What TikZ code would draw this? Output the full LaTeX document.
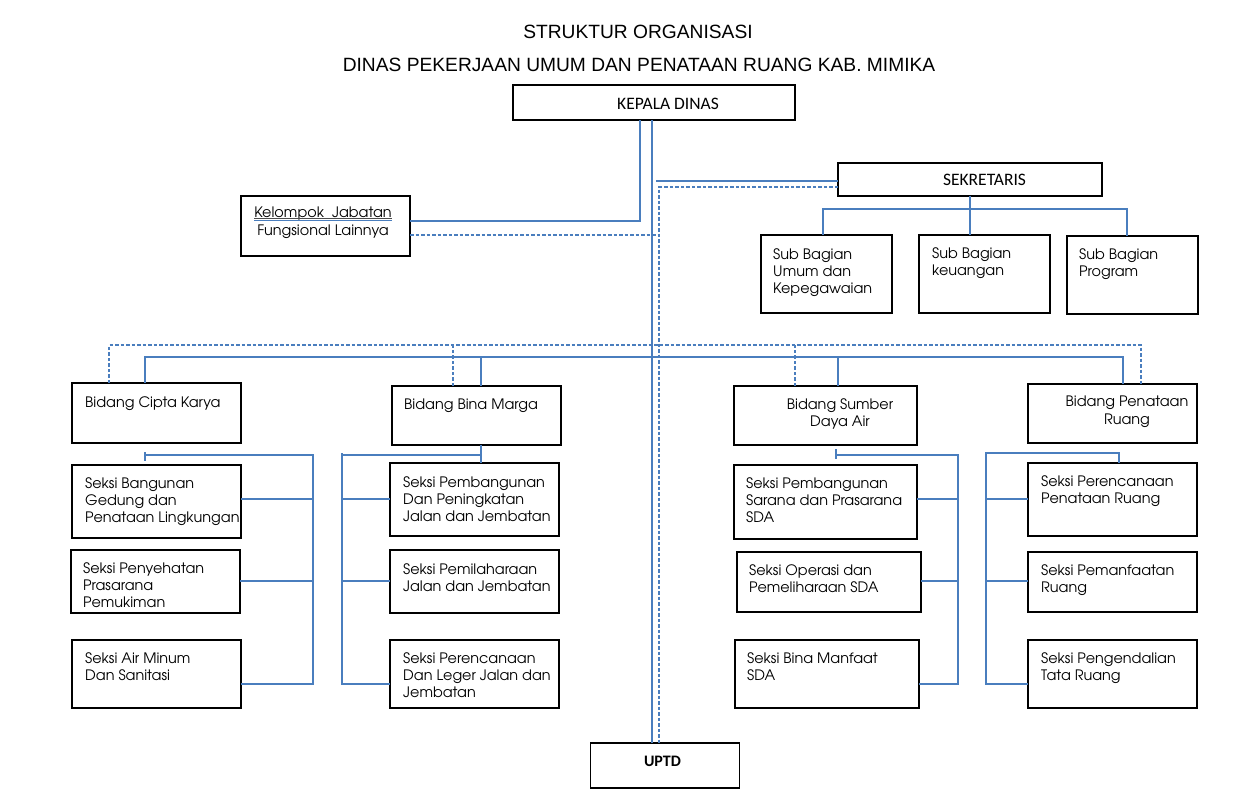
\documentclass[tikz,border=0pt]{standalone}
\usepackage{fontspec}
\setmainfont{Liberation Sans}
\newfontfamily\advfont{TeX Gyre Adventor}
\newfontfamily\calfont{Carlito}
\definecolor{ln}{RGB}{74,126,190}
\begin{document}
\begin{tikzpicture}[x=1pt,y=-1pt,
  box/.style={draw=black, line width=2.3pt, anchor=north west, inner sep=0pt, outer sep=0pt},
  thinbox/.style={draw=black, line width=1.1pt, anchor=north west, inner sep=0pt, outer sep=0pt},
  conn/.style={draw=ln, line width=1.2pt},
  dconn/.style={draw=ln, line width=1.1pt, dash pattern=on 3.5pt off 2pt},
  txt/.style={anchor=north west, align=left, inner sep=0pt, yshift=-2pt, font=\advfont\fontsize{14.4}{17.2}\selectfont},
  ctxt/.style={anchor=north, align=center, inner sep=0pt, yshift=-2pt, font=\advfont\fontsize{14.4}{17.2}\selectfont},
  ttl/.style={anchor=base, inner sep=0pt, font=\fontsize{19.2}{22}\selectfont},
  caltxt/.style={anchor=base, inner sep=0pt, font=\calfont\fontsize{17.5}{20}\selectfont}]
\useasboundingbox (0,0) rectangle (1246,792);
\fill[white] (0,0) rectangle (1246,792);

% titles
\node[ttl] (t1) at (638,38) {STRUKTUR ORGANISASI};
\node[ttl] (t2) at (639,71) {DINAS PEKERJAAN UMUM DAN PENATAAN RUANG KAB. MIMIKA};

% top boxes
\node[box, minimum width=282pt, minimum height=35pt] (kd) at (513,85) {};
\node[caltxt] (kdt) at (668,109.5) {KEPALA DINAS};
\node[thinbox, minimum width=264pt, minimum height=33pt] (sek) at (838,163) {};
\node[caltxt] (sekt) at (984.5,185.5) {SEKRETARIS};
\node[box, minimum width=169pt, minimum height=60pt] (kel) at (241,196) {};
\node[ctxt] (kelt) at (323,205) {Kelompok\ \ Jabatan\\Fungsional Lainnya};
\coordinate (ku1) at (254,220.5);
\coordinate (ku2) at (392,220.5);
\draw[black!70, line width=0.6pt] (254,218.3) -- (392,218.3);
\draw[conn] (ku1) -- (ku2);

% sub bagian
\node[box, minimum width=131pt, minimum height=78pt] (umum) at (761,235) {};
\node[txt] (umumt) at (773,246) {Sub Bagian\\Umum dan\\Kepegawaian};
\node[box, minimum width=131pt, minimum height=78pt] (keu) at (919,235) {};
\node[txt] (keut) at (932,245) {Sub Bagian\\keuangan};
\node[box, minimum width=131pt, minimum height=78pt] (prog) at (1067,236) {};
\node[txt] (progt) at (1079,246) {Sub Bagian\\Program};

% bidang
\node[box, minimum width=169pt, minimum height=60pt] (cipta) at (72,383) {};
\node[txt] (ciptat) at (85,394) {Bidang Cipta Karya};
\node[box, minimum width=169pt, minimum height=59pt] (bina) at (392,386) {};
\node[txt] (binat) at (404,397) {Bidang Bina Marga};
\node[box, minimum width=183pt, minimum height=59pt] (sda) at (734,386) {};
\node[ctxt] (sdat) at (840,396) {Bidang Sumber\\Daya Air};
\node[box, minimum width=169pt, minimum height=59pt] (pen) at (1028,384) {};
\node[ctxt] (pent) at (1127,394) {Bidang Penataan\\Ruang};

% seksi column 1
\node[box, minimum width=169pt, minimum height=73pt] (bang) at (72,465) {};
\node[txt] (bangt) at (85,475) {Seksi Bangunan\\Gedung dan\\Penataan Lingkungan};
\node[box, minimum width=169pt, minimum height=63pt] (peny) at (71,550) {};
\node[txt] (penyt) at (83,560) {Seksi Penyehatan\\Prasarana\\Pemukiman};
\node[box, minimum width=169pt, minimum height=68pt] (air) at (72,640) {};
\node[txt] (airt) at (85,650) {Seksi Air Minum\\Dan Sanitasi};

% seksi column 2
\node[box, minimum width=169pt, minimum height=73pt] (pemb) at (390,463) {};
\node[txt] (pembt) at (403,474) {Seksi Pembangunan\\Dan Peningkatan\\Jalan dan Jembatan};
\node[box, minimum width=169pt, minimum height=63pt] (pemi) at (390,550) {};
\node[txt] (pemit) at (403,561) {Seksi Pemilaharaan\\Jalan dan Jembatan};
\node[box, minimum width=169pt, minimum height=68pt] (lege) at (390,640) {};
\node[txt] (leget) at (403,650) {Seksi Perencanaan\\Dan Leger Jalan dan\\Jembatan};

% seksi column 3
\node[box, minimum width=183pt, minimum height=74pt] (sarana) at (734,465) {};
\node[txt] (saranat) at (746,475) {Seksi Pembangunan\\Sarana dan Prasarana\\SDA};
\node[box, minimum width=184pt, minimum height=60pt] (oper) at (737,552) {};
\node[txt] (opert) at (749,562) {Seksi Operasi dan\\Pemeliharaan SDA};
\node[box, minimum width=184pt, minimum height=68pt] (manf) at (735,640) {};
\node[txt] (manft) at (747,650) {Seksi Bina Manfaat\\SDA};

% seksi column 4
\node[box, minimum width=169pt, minimum height=73pt] (perR) at (1028,463) {};
\node[txt] (perRt) at (1041,473) {Seksi Perencanaan\\Penataan Ruang};
\node[box, minimum width=169pt, minimum height=60pt] (manR) at (1028,552) {};
\node[txt] (manRt) at (1041,562) {Seksi Pemanfaatan\\Ruang};
\node[box, minimum width=169pt, minimum height=68pt] (pengR) at (1028,640) {};
\node[txt] (pengRt) at (1041,650) {Seksi Pengendalian\\Tata Ruang};

% UPTD
\node[thinbox, minimum width=149pt, minimum height=45pt] (uptd) at (590.5,743) {};
\node[anchor=base, inner sep=0pt, font=\calfont\bfseries\fontsize{16}{19}\selectfont] (uptdt) at (662.5,766) {UPTD};

% ---- connectors ----
\draw[conn] (kd.south -| 640,0) |- (kel.east |- 0,221);
\draw[conn] (kd.south -| 652,0) -- (uptd.north -| 652,0);
\coordinate (s1) at (656,181);
\draw[conn] (s1) -- (sek.west |- s1);
\draw[dconn] (sek.west |- 0,187) -| (uptd.north -| 659,0);
\coordinate (d1) at (659,235);
\draw[dconn] (kel.east |- d1) -- (d1);

% sekretaris to sub bagian
\coordinate (sb) at (970,209);
\draw[conn] (sek.south) -- (sb);
\draw[conn] (umum.north -| 823,0) |- (sb) -| (prog.north -| 1127,0);
\draw[conn] (sb) -- (keu.north -| sb);

% bidang solid
\coordinate (h1) at (652,357);
\draw[conn] (cipta.north -| 145,0) |- (h1) -| (pen.north -| 1123,0);
\draw[conn] (bina.north -| 481,0) -- (h1 -| 481,0);
\draw[conn] (sda.north -| 838,0) -- (h1 -| 838,0);
% bidang dashed
\coordinate (d2) at (659,345);
\draw[dconn] (cipta.north -| 109,0) |- (d2) -| (pen.north -| 1141,0);
\draw[dconn] (bina.north -| 453,0) -- (d2 -| 453,0);
\draw[dconn] (sda.north -| 795,0) -- (d2 -| 795,0);

% column 1
\coordinate (c1a) at (145,455);
\coordinate (c1t) at (313,455);
\coordinate (c1b) at (313,684);
\coordinate (k1a) at (145,452);
\coordinate (k1b) at (145,461);
\draw[conn] (k1a) -- (k1b);
\draw[conn] (c1a) -- (c1t) -- (c1b) -- (air.east |- c1b);
\draw[conn] (bang.east |- 0,499) -- (c1t |- 0,499);
\draw[conn] (peny.east |- 0,581) -- (c1t |- 0,581);

% column 2
\coordinate (c2t) at (342,453);
\coordinate (c2h) at (342,455);
\coordinate (c2b) at (342,684);
\draw[conn] (bina.south -| 481,0) -- (pemb.north -| 481,0);
\draw[conn] (c2h) -- (c2h -| 481,0);
\draw[draw=ln, line width=2.4pt] (393,455) -- (430,455);
\draw[conn] (c2t) -- (c2b) -- (lege.west |- c2b);
\draw[conn] (pemb.west |- 0,499) -- (c2t |- 0,499);
\draw[conn] (pemi.west |- 0,581) -- (c2t |- 0,581);

% column 3
\coordinate (k3a) at (836,449);
\coordinate (k3b) at (836,459);
\coordinate (c3a) at (836,455);
\coordinate (c3t) at (958,455);
\coordinate (c3b) at (958,684);
\draw[conn] (k3a) -- (k3b);
\draw[conn] (c3a) -- (c3t) -- (c3b) -- (manf.east |- c3b);
\draw[conn] (sarana.east |- 0,499) -- (c3t |- 0,499);
\draw[conn] (oper.east |- 0,581) -- (c3t |- 0,581);

% column 4
\coordinate (c4t) at (986,453);
\coordinate (c4b) at (986,684);
\draw[conn] (perR.north -| 1119,0) -- (1119,453) -- (c4t) -- (c4b) -- (pengR.west |- c4b);
\draw[conn] (perR.west |- 0,499) -- (c4t |- 0,499);
\draw[conn] (manR.west |- 0,581) -- (c4t |- 0,581);
\end{tikzpicture}
\end{document}
